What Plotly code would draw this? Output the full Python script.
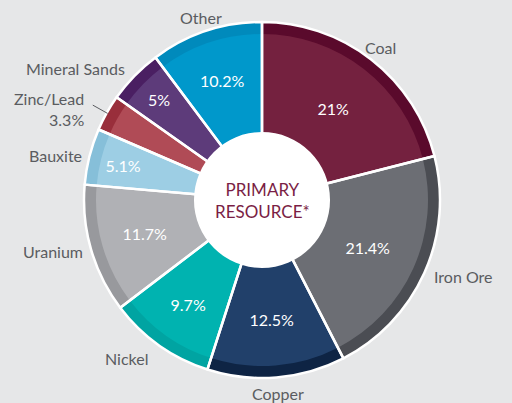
import math
import plotly.graph_objects as go

categories = ["Coal", "Iron Ore", "Copper", "Nickel", "Uranium", "Bauxite",
              "Zinc/Lead", "Mineral Sands", "Other"]
shares = [21.0, 21.4, 12.5, 9.7, 11.7, 5.1, 3.3, 5.0, 10.2]
pct_labels = ["21%", "21.4%", "12.5%", "9.7%", "11.7%", "5.1%", "", "5%", "10.2%"]
main_colors = ["#74213f", "#6c6e74", "#21406a", "#00b3b0", "#b0b1b5",
               "#9dcee4", "#b04b56", "#5d3b7a", "#0098cb"]
ring_colors = ["#5a0a2c", "#4b4d53", "#0e2444", "#00a4a2", "#98999d",
               "#86bfd9", "#992e3b", "#4a1f62", "#008abc"]

W, H = 512, 403
CX, CY = 262, 200          # pie centre in pixels (from top)
R_OUT, R_IN, R_HOLE = 178, 166, 66


def dom(r):
    cy_b = H - CY
    return dict(x=[(CX - r) / W, (CX + r) / W], y=[(cy_b - r) / H, (cy_b + r) / H])


common = dict(labels=categories, values=shares, sort=False, direction="clockwise",
              rotation=0, showlegend=False, hoverinfo="skip")
fig = go.Figure()
# darker outer band
fig.add_trace(go.Pie(**common, marker=dict(colors=ring_colors, line=dict(width=0)),
                     textinfo="none", domain=dom(R_OUT)))
# main slices with percentages
fig.add_trace(go.Pie(**common, marker=dict(colors=main_colors, line=dict(width=0)),
                     text=pct_labels, textinfo="text", textposition="inside",
                     insidetextorientation="horizontal",
                     insidetextfont=dict(family="Lato", size=16, color="white"),
                     hole=R_HOLE / R_IN, domain=dom(R_IN)))
# white centre
fig.add_trace(go.Pie(labels=["centre"], values=[1], showlegend=False, hoverinfo="skip",
                     marker=dict(colors=["white"], line=dict(color="white", width=0)),
                     textinfo="none", domain=dom(R_HOLE + 2)))
# white separators and outer border
fig.add_trace(go.Pie(**common, marker=dict(colors=["rgba(0,0,0,0)"] * len(shares),
                                           line=dict(color="white", width=2.5)),
                     textinfo="none", domain=dom(R_OUT)))

# outside category labels, placed at each slice's mid-angle: (radius, anchor)
label_pos = {"Coal": (193, "center"), "Iron Ore": (186, "left"), "Copper": (194, "center"),
             "Nickel": (194, "right"), "Uranium": (184, "right"), "Bauxite": (184, "right"),
             "Zinc/Lead": (196, "right"), "Mineral Sands": (188, "right"), "Other": (192, "center")}
total = sum(shares)
cum = 0
for name, v in zip(categories, shares):
    mid = (cum + v / 2) / total * 2 * math.pi
    cum += v
    s, c = math.sin(mid), math.cos(mid)
    r, xa = label_pos[name]
    px, py = CX + r * s, CY - r * c
    txt = name
    if name == "Zinc/Lead":
        txt = "Zinc/Lead<br>3.3%"
        fig.add_shape(type="line", xref="paper", yref="paper",
                      x0=(CX + 177 * s) / W, y0=(H - (CY - 177 * c)) / H,
                      x1=(CX + 194 * s) / W, y1=(H - (CY - 194 * c)) / H,
                      line=dict(color="#5a5c60", width=1))
        px -= 5
        py += 5
    fig.add_annotation(x=px / W, y=(H - py) / H, xref="paper", yref="paper",
                       text=txt, showarrow=False, xanchor=xa, yanchor="middle",
                       align="right" if xa == "right" else "center",
                       font=dict(family="Lato", size=16, color="#5a5c60"))

fig.add_annotation(x=CX / W, y=(H - CY) / H, xref="paper", yref="paper",
                   text="PRIMARY<br>RESOURCE*", showarrow=False,
                   font=dict(family="Lato", size=17, color="#7a1e45"), align="center")

fig.update_layout(width=W, height=H, margin=dict(l=0, r=0, t=0, b=0),
                  paper_bgcolor="#e6e7e8", plot_bgcolor="#e6e7e8")
fig.write_html("out.html", config={"displayModeBar": False},
               post_script="document.body.style.margin='0px';")
